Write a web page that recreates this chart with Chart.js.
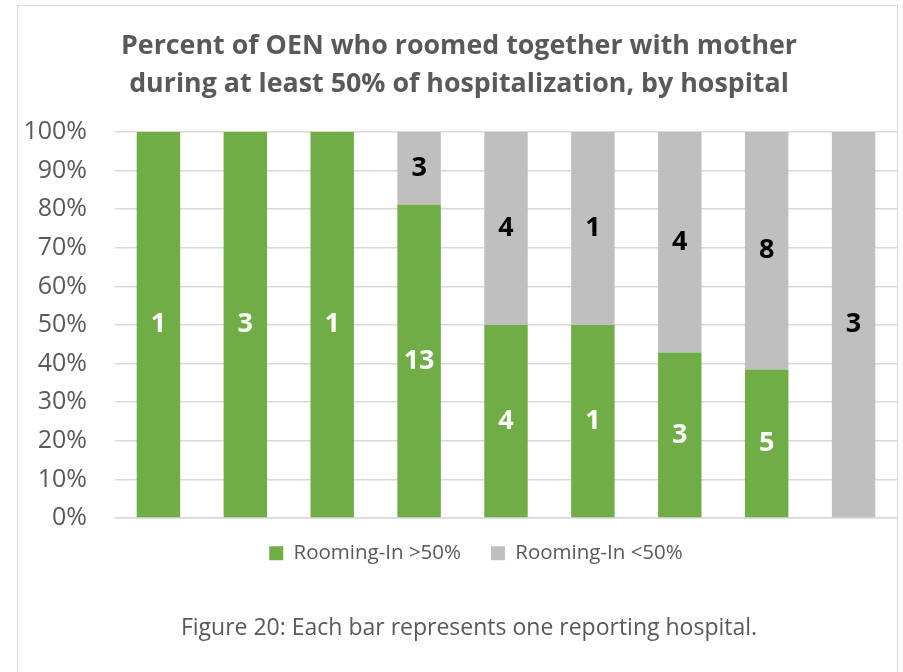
<!DOCTYPE html>
<html>
<head>
<meta charset="utf-8">
<script src="https://cdn.jsdelivr.net/npm/chart.js@4"></script>
<style>
  html, body { margin: 0; padding: 0; background: #fff; overflow: hidden; }
  #wrap { position: relative; width: 903px; height: 672px; }
  #frame { position: absolute; left: 17px; top: 5px; width: 881px; height: 700px; border: 1.5px solid #d9d9d9; box-sizing: border-box; }
  #caption { position: absolute; left: 29px; width: 880px; top: 611px; line-height: 30px; text-align: center; font-family: "Open Sans", sans-serif; font-size: 23px; color: #595959; }
  canvas { position: absolute; left: 0; top: 0; }
</style>
</head>
<body>
<div id="wrap">
  <div id="frame"></div>
  <canvas id="chartRooming" width="903" height="672"></canvas>
  <div id="caption">Figure 20: Each bar represents one reporting hospital.</div>
</div>
<script>
const hospitals = ['H1', 'H2', 'H3', 'H4', 'H5', 'H6', 'H7', 'H8', 'H9'];
const countOver50 = [1, 3, 1, 13, 4, 1, 3, 5, 0];
const countUnder50 = [0, 0, 0, 3, 4, 1, 4, 8, 3];
const yTicks = [0, 10, 20, 30, 40, 50, 60, 70, 80, 90, 100];

// share of each hospital's infants, from the counts shown on the bars
const pctOver50 = countOver50.map((n, i) => 100 * n / (n + countUnder50[i]));
const pctUnder50 = countUnder50.map((n, i) => 100 * n / (n + countOver50[i]));

const barLabels = {
    id: 'barLabels',
    afterDatasetsDraw(chart) {
        const ctx = chart.ctx;
        ctx.save();
        ctx.font = 'bold 27px "Open Sans", sans-serif';
        ctx.textAlign = 'center';
        ctx.textBaseline = 'middle';
        const counts = [countOver50, countUnder50];
        chart.data.datasets.forEach((ds, di) => {
            const meta = chart.getDatasetMeta(di);
            meta.data.forEach((bar, i) => {
                const n = counts[di][i];
                if (!n) return;
                ctx.fillStyle = di === 0 ? '#ffffff' : '#000000';
                ctx.fillText(String(n), bar.x, (bar.y + bar.base) / 2);
            });
        });
        ctx.restore();
    }
};

// nudge the legend to where the original sits
const legendShift = {
    id: 'legendShift',
    afterLayout(chart) {
        const lg = chart.legend;
        lg.left += 17; lg.right += 17;
        lg.top -= 5; lg.bottom -= 5;
    }
};

new Chart(document.getElementById('chartRooming').getContext('2d'), {
    type: 'bar',
    data: {
        labels: hospitals,
        datasets: [{
            label: 'Rooming-In >50%',
            data: pctOver50,
            backgroundColor: '#70ad47',
            borderWidth: 0,
            categoryPercentage: 1,
            barPercentage: 0.5
        }, {
            label: 'Rooming-In <50%',
            data: pctUnder50,
            backgroundColor: '#bfbfbf',
            borderWidth: 0,
            categoryPercentage: 1,
            barPercentage: 0.5
        }]
    },
    options: {
        responsive: false,
        animation: false,
        layout: { padding: { left: 21, right: 6, top: 10, bottom: 93.5 } },
        plugins: {
            title: {
                display: true,
                text: ['Percent of OEN who roomed together with mother', 'during at least 50% of hospitalization, by hospital'],
                color: '#595959',
                font: { family: '"Open Sans", sans-serif', size: 26.8, weight: 'bold', lineHeight: 38 / 26.8 },
                padding: { top: 17, bottom: 29 }
            },
            legend: {
                position: 'bottom',
                labels: {
                    color: '#595959',
                    font: { family: '"Open Sans", sans-serif', size: 20.5 },
                    boxWidth: 14,
                    boxHeight: 14,
                    padding: 30
                }
            },
            tooltip: { enabled: false }
        },
        scales: {
            x: {
                stacked: true,
                grid: { display: false },
                border: { color: '#d9d9d9', width: 1.5 },
                ticks: { display: false },
                afterFit: axis => { axis.height = 0; }
            },
            y: {
                stacked: true,
                min: 0,
                max: 100,
                afterBuildTicks: axis => { axis.ticks = yTicks.map(v => ({ value: v })); },
                afterFit: axis => { axis.width = 94; },
                grid: { color: '#d9d9d9', lineWidth: 1.5, drawTicks: false },
                border: { display: false },
                ticks: {
                    color: '#595959',
                    padding: 28,
                    font: { family: '"Open Sans", sans-serif', size: 25 },
                    callback: v => v + '%'
                }
            }
        }
    },
    plugins: [barLabels, legendShift]
});
</script>
</body>
</html>
